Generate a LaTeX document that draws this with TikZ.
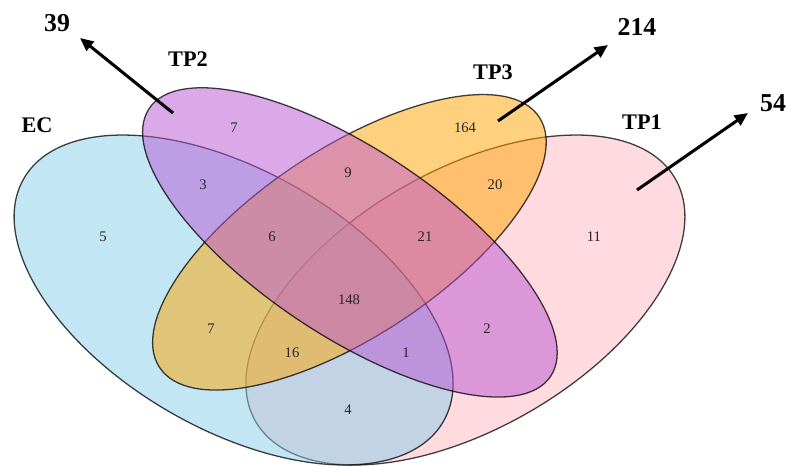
\documentclass[tikz,border=0pt]{standalone}
\usepackage{fontspec}
\setmainfont{Liberation Serif}
\usetikzlibrary{arrows.meta}
\definecolor{ecblue}{RGB}{135,206,235}
\definecolor{tpone}{RGB}{255,182,193}
\definecolor{tptwo}{RGB}{186,85,211}
\definecolor{tpthree}{RGB}{255,165,0}
\begin{document}
\begin{tikzpicture}[x=0.03cm,y=0.03cm,
  setshape/.style={fill=#1, fill opacity=0.5, draw=black, draw opacity=0.75, line width=1.1pt},
  count/.style={font=\fontsize{12.5}{14}\selectfont, text=black!85, inner sep=0pt},
  setlabel/.style={font=\fontsize{19}{22}\selectfont\bfseries, inner sep=0pt},
  total/.style={font=\fontsize{22}{26}\selectfont\bfseries, inner sep=0pt},
  pointer/.style={line width=2.6pt, -{Triangle[length=4mm,width=3.5mm]}}]
\useasboundingbox (0,0) rectangle (787,-466);
\fill[white] (0,0) rectangle (787,-466);
% sets (drawn in stacking order)
\draw[setshape=tpone, rotate around={30.1:(465.4,-300)}] (465.4,-300) ellipse [x radius=242.4, y radius=128.9];
\draw[setshape=ecblue, rotate around={-30.1:(233.6,-300)}] (233.6,-300) ellipse [x radius=242.4, y radius=128.9];
\draw[setshape=tpthree, rotate around={33.4:(349.4,-242.3)}] (349.4,-242.3) ellipse [x radius=227.4, y radius=94];
\draw[setshape=tptwo, rotate around={-33.7:(349.9,-242.4)}] (349.9,-242.4) ellipse [x radius=241.3, y radius=93];
% counts
\node[count] (n7a) at (234,-128) {7};
\node[count] (n3) at (203,-185) {3};
\node[count] (n5) at (103,-237) {5};
\node[count] (n6) at (272,-237) {6};
\node[count] (n9) at (348,-173) {9};
\node[count] (n164) at (465,-128) {164};
\node[count] (n20) at (495,-185) {20};
\node[count] (n21) at (425,-237) {21};
\node[count] (n11) at (594,-237) {11};
\node[count] (n148) at (349,-300) {148};
\node[count] (n7b) at (211,-329) {7};
\node[count] (n16) at (292,-353) {16};
\node[count] (n1) at (406,-353) {1};
\node[count] (n2) at (487,-329) {2};
\node[count] (n4) at (348,-410) {4};
% set labels
\node[setlabel] (lEC) at (37,-125) {EC};
\node[setlabel] (lTP2) at (188,-59) {TP2};
\node[setlabel] (lTP3) at (493,-72) {TP3};
\node[setlabel] (lTP1) at (642,-122) {TP1};
% totals
\node[total] (t39) at (57,-23) {39};
\node[total] (t214) at (637,-27) {214};
\node[total] (t54) at (773,-103) {54};
% arrows
\coordinate (s39) at (173,-113); \coordinate (e39) at (80,-38);
\coordinate (s214) at (498,-121); \coordinate (e214) at (608,-45);
\coordinate (s54) at (637,-190); \coordinate (e54) at (748,-113);
\draw[pointer] (s39) -- (e39);
\draw[pointer] (s214) -- (e214);
\draw[pointer] (s54) -- (e54);
\end{tikzpicture}
\end{document}
